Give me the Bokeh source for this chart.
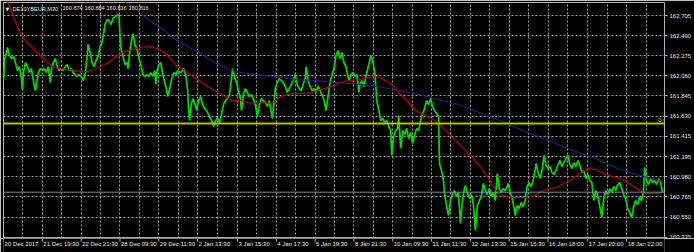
from bokeh.plotting import figure
from bokeh.layouts import column
from bokeh.models import (Range1d, FixedTicker, PrintfTickFormatter, Label, Span, Grid)
from bokeh.core.properties import value
from bokeh.embed import file_html
from bokeh.resources import INLINE

# ---------------- data (bar index, price) ----------------
price_x = [0, 1, 3, 4, 6, 8, 10, 12, 14, 16, 18, 19, 20, 22, 24, 26, 28, 30, 32, 33, 35, 37, 39, 41, 43, 45, 47, 48,
           50, 52, 54, 56, 58, 60, 62, 64, 66, 68, 70, 72, 74, 76, 78, 80, 82, 84, 85, 87, 89, 91, 93, 95, 97, 99,
           101, 102, 104, 106, 108, 110, 112, 114, 116, 117, 118, 120, 122, 124, 125, 127, 129, 130, 132, 134, 136,
           138, 140, 142, 144, 146, 148, 150, 152, 153, 154, 156, 158, 160, 162, 164, 165,
           167, 169, 171, 173, 175, 177, 179, 181, 183, 185, 186, 187, 188, 190, 192, 194, 196, 198, 200, 202, 204,
           206, 208, 210, 211, 213, 215, 217, 219, 221, 223, 225, 227, 229, 230, 232, 234, 236, 238, 239, 241, 243,
           245, 247, 249, 251, 253, 255, 257, 259, 261, 263, 265, 267, 269, 270, 272, 273, 275, 277, 279, 281, 283,
           285, 287, 289, 291, 293, 295, 297, 299, 301, 303, 304, 306, 308, 310, 312, 314, 316, 318, 320, 322, 324,
           326, 328, 330, 332,
           334, 336, 338, 340, 342, 344, 346, 347, 349, 351, 353, 355, 357, 358, 360, 362, 364, 366, 368, 369, 371,
           373, 375, 377, 379, 381, 383, 385, 387, 389, 390, 392, 394, 396, 397, 399, 401, 403, 405, 407, 409, 411,
           413, 415, 417, 419, 421, 423, 425, 427, 429, 431, 433, 435, 437, 438, 440, 442, 443, 445, 447, 449, 451,
           453, 455, 457, 459, 461, 463, 464, 466, 468, 470, 472, 474, 476, 478, 480, 482, 484, 486, 488, 490, 492,
           494, 496,
           498, 500, 502, 504, 506, 507, 509, 511, 513, 514, 516, 518, 520, 522, 524, 526, 528, 530, 532, 534, 535,
           537, 539, 541, 543, 545, 547, 549, 551, 553, 555, 557, 559, 561, 563, 565, 567, 569, 571, 573, 575, 577,
           579, 581, 583, 585, 587, 589, 591, 593, 595, 597, 599, 601, 603, 605, 607, 609, 611, 613, 615, 617, 619,
           621, 623, 625, 627, 629, 631, 633, 635, 637, 639, 641, 643, 644, 646, 648, 650, 652, 654, 656, 658, 660,
           662]
price_y = [162.010, 162.224, 162.309, 162.363, 162.277, 162.245, 162.266, 162.202, 162.117, 162.159, 162.031,
           161.903, 162.095, 162.202, 162.159, 162.095, 162.138, 162.010, 161.903, 161.967, 162.095, 162.138,
           162.117, 162.138, 162.095, 162.159, 161.988, 162.117, 162.202, 162.245, 162.159, 162.117, 162.138,
           162.117, 162.159, 162.181, 162.117, 162.138, 162.095, 162.074, 162.053, 162.074, 162.053, 162.010,
           162.074, 162.277, 162.395, 162.309, 162.202, 162.159, 162.224, 162.266, 162.373, 162.416, 162.544,
           162.608, 162.662, 162.651, 162.608, 162.673, 162.694, 162.705, 162.715, 162.480, 162.352, 162.266,
           162.181, 162.202, 162.138, 162.331, 162.459, 162.512, 162.395, 162.352, 162.245, 162.181, 162.074,
           162.053, 162.074, 162.053, 162.095, 162.053, 162.117, 161.967, 162.095, 162.181, 162.202, 162.074,
           161.988, 161.903, 161.839,
           161.924, 162.031, 162.095, 162.074, 162.117, 162.095, 162.106, 162.138, 162.074, 161.903, 161.689,
           161.582, 161.710, 161.817, 161.775, 161.689, 161.796, 161.839, 161.753, 161.710, 161.689, 161.646,
           161.604, 161.561, 161.518, 161.582, 161.604, 161.561, 161.646, 161.753, 161.796, 161.817, 161.860,
           162.031, 162.138, 162.053, 161.988, 161.903, 161.817, 161.689, 161.860, 161.924, 161.882, 161.839,
           161.860, 161.817, 161.753, 161.625, 161.753, 161.817, 161.796, 161.775, 161.732, 161.796, 161.668,
           161.604, 161.796, 161.924, 161.988, 162.031, 162.010, 161.988, 161.946, 161.882, 161.924, 161.967,
           162.010, 162.074, 161.967, 161.924, 161.903, 161.967, 162.031, 162.159, 162.010, 161.946, 161.903,
           161.924, 161.882, 161.946, 161.903, 161.860, 161.796, 161.689, 161.839, 161.988, 162.074, 162.138,
           162.277, 162.331, 162.245, 162.309, 162.202, 162.159, 162.053, 162.010, 162.074, 162.095, 162.053,
           162.074, 161.882, 161.967, 162.010, 161.946, 162.053, 162.138, 162.224, 162.277, 162.202, 162.095,
           161.796, 161.689, 161.582, 161.604, 161.561, 161.582, 161.518, 161.475, 161.208, 161.411, 161.475,
           161.497, 161.636, 161.283, 161.475, 161.433, 161.497, 161.390, 161.454, 161.336, 161.433, 161.497,
           161.475, 161.582, 161.657, 161.710, 161.796, 161.753, 161.817, 161.732, 161.689, 161.657, 161.625,
           161.123, 161.048, 160.941, 160.802, 160.674, 160.567, 160.727, 160.791, 160.834, 160.770, 160.813,
           160.481, 160.727, 160.855, 160.887, 160.813, 160.748, 160.791, 160.684, 160.406, 160.674, 160.727,
           160.770, 160.909, 160.834, 160.791, 160.855, 160.770, 160.813, 160.727, 161.016,
           160.855, 160.813, 160.855, 160.834, 160.877, 160.909, 160.813, 160.748, 160.641, 160.567, 160.674,
           160.641, 160.706, 160.663, 160.727, 160.877, 160.919, 160.877, 160.941, 161.048, 161.123, 161.026,
           160.962, 161.048, 161.208, 161.101, 161.069, 161.090, 161.026, 161.005, 161.048, 161.112, 161.155,
           161.090, 161.133, 161.176, 161.208, 161.112, 161.069, 161.133, 161.090, 161.155, 161.101, 161.026,
           161.048, 160.962, 161.005, 160.941, 160.919, 160.727, 160.834, 160.770, 160.663, 160.545, 160.748,
           160.834, 160.791, 160.855, 160.813, 160.877, 160.834, 160.898, 160.919, 160.855, 160.791, 160.748,
           160.641, 160.599, 160.545, 160.663, 160.727, 160.684, 160.770, 160.727, 160.834, 161.080, 160.941,
           160.898, 160.962, 160.919, 160.941, 160.898, 160.962, 160.919, 160.816]

ma_fast_x = [4, 10, 17, 22, 30, 40, 50, 57, 67, 77, 85, 94, 100, 107, 114, 120, 129, 137, 145, 154, 162, 169,
             175, 182, 189, 195, 205, 215, 224, 230, 239, 245, 252, 262, 269, 275, 282, 289, 302, 312, 322, 332,
             337, 347, 357, 367, 374, 380, 389, 397, 407, 415, 424, 430, 437, 447, 457, 467, 477, 487, 492, 497,
             505, 512, 525, 532, 542, 555, 569, 579, 587, 595, 605, 619, 629, 639, 645, 655, 662]
ma_fast_y = [162.865, 162.694, 162.512, 162.437, 162.352, 162.245, 162.149, 162.138, 162.127, 162.106, 162.106,
             162.138, 162.170, 162.213, 162.277, 162.309, 162.341, 162.363, 162.373, 162.352, 162.309, 162.224,
             162.159, 162.117, 162.063, 162.020, 161.946, 161.882, 161.828, 161.796, 161.796, 161.775, 161.764,
             161.775, 161.764, 161.817, 161.849, 161.871, 161.871, 161.892, 161.924, 161.956, 161.988, 162.010,
             162.020, 162.042, 162.053, 162.031, 161.978, 161.882, 161.775, 161.678, 161.636, 161.604, 161.550,
             161.443, 161.336, 161.229, 161.112, 160.973, 160.877, 160.802, 160.770, 160.759, 160.759, 160.770,
             160.834, 160.866, 160.941, 161.016, 161.069, 161.058, 161.005, 160.962, 160.909, 160.834, 160.802,
             160.802, 160.813]

ma_slow_x = [120, 132, 147, 162, 174, 187, 197, 212, 229, 245, 262, 279, 295, 312, 332, 347, 370, 387, 404, 422,
             440, 454, 467, 480, 497, 512, 532, 552, 572, 592, 617, 632, 647, 660]
ma_slow_y = [162.865, 162.779, 162.651, 162.544, 162.437, 162.363, 162.309, 162.202, 162.117, 162.085, 162.063,
             162.042, 162.020, 162.010, 161.988, 161.978, 161.956, 161.924, 161.892, 161.849, 161.796, 161.764,
             161.710, 161.657, 161.593, 161.518, 161.433, 161.347, 161.262, 161.187, 161.069, 161.016, 160.973,
             160.941]

level_price = 161.550
last_price = 160.816
price_ticks = [162.705, 162.490, 162.275, 162.060, 161.845, 161.630, 161.415, 161.195,
               160.980, 160.765, 160.550, 160.335]
date_pos = [0, 39, 78, 117, 156, 195, 235, 274, 313, 352, 391, 430, 469, 508, 547, 587, 626]
date_labels = ["20 Dec 2017", "21 Dec 19:30", "22 Dec 21:30", "28 Dec 09:30", "29 Dec 11:30",
               "2 Jan 13:30", "3 Jan 15:30", "4 Jan 17:30", "5 Jan 19:30", "8 Jan 21:30",
               "10 Jan 09:30", "11 Jan 11:30", "12 Jan 13:30", "15 Jan 15:30", "16 Jan 18:00",
               "17 Jan 20:00", "18 Jan 22:00"]
symbol_text = "DE10YBEUR,M30"
title_prices = ["160.874", "160.884", "160.816", "160.816"]

# ---------------- styling ----------------
FONT = "Liberation Sans"
FS = "6px"
FS_TITLE = "5.6px"
FG = "#e4e4e4"
BORDER = "#b4b4b4"

p = figure(width=694, height=238, output_backend="svg", toolbar_location=None,
           x_range=Range1d(0, 664), y_range=Range1d(160.321, 162.844),
           x_axis_location=None, y_axis_location="right",
           min_border_left=3, min_border_right=27, min_border_top=2, min_border_bottom=0)
p.background_fill_color = "black"
p.border_fill_color = "black"
p.outline_line_color = BORDER

# right price axis
ya = p.yaxis[0]
ya.ticker = FixedTicker(ticks=price_ticks)
ya.formatter = PrintfTickFormatter(format="%.3f")
ya.axis_line_color = None
ya.major_tick_out = 3
ya.major_tick_in = 0
ya.minor_tick_line_color = None
ya.major_tick_line_color = BORDER
ya.major_label_standoff = 2
ya.major_label_text_font = FONT
ya.major_label_text_font_size = FS
ya.major_label_text_color = FG

# grids
p.center = [r for r in p.center if not (isinstance(r, Grid) and r.dimension == 0)]
grid_x = sorted(date_pos[1:] + [(a + b) / 2 for a, b in zip(date_pos[:-1], date_pos[1:])] + [date_pos[-1] + 19.5])
p.add_layout(Grid(dimension=0, ticker=FixedTicker(ticks=grid_x)))
p.ygrid.ticker = FixedTicker(ticks=price_ticks)
for g in list(p.xgrid) + list(p.ygrid):
    g.grid_line_color = "#a4a4a4"
    g.grid_line_dash = "2 2"
    g.grid_line_width = 1

# horizontal level line and bid line
p.add_layout(Span(location=level_price, dimension="width", line_color="#bcbc00", line_width=2))
p.add_layout(Span(location=last_price, dimension="width", line_color="#7c8898", line_width=1))

# price and moving averages
p.line(price_x, price_y, line_color="#00dc00", line_width=1.7)
p.line(ma_slow_x, ma_slow_y, line_color="#22227e", line_width=1.1)
p.line(ma_fast_x, ma_fast_y, line_color="#c00000", line_width=1.2)

# title
p.add_layout(Label(x=2, y=233, x_units="screen", y_units="screen", text="\u25bc",
                   text_font="DejaVu Sans", text_font_size="5px", text_color=FG, text_baseline="top"))
p.add_layout(Label(x=9, y=233, x_units="screen", y_units="screen", text=symbol_text,
                   text_font=FONT, text_font_size=FS_TITLE, text_color=FG, text_baseline="top"))
for i, t in enumerate(title_prices):
    p.add_layout(Label(x=59 + 22 * i, y=233, x_units="screen", y_units="screen", text=t,
                       text_font=FONT, text_font_size=FS_TITLE, text_color=FG, text_baseline="top"))

# level label
p.add_layout(Label(x=663, y=level_price, x_units="screen", y_units="data", text="0.0",
                   text_align="right", text_baseline="bottom", y_offset=2,
                   text_font=FONT, text_font_size=FS, text_color="#d0d000"))

# current price box
p.add_layout(Label(x=665, y=last_price, x_units="screen", y_units="data", text="160.816",
                   text_align="left", text_baseline="middle", padding=2,
                   background_fill_color="white", text_color="black",
                   text_font=FONT, text_font_size=FS, level="overlay"))

# ---------------- time strip below ----------------
p2 = figure(width=694, height=14, output_backend="svg", toolbar_location=None,
            x_range=p.x_range, y_range=Range1d(0, 14),
            x_axis_location=None, y_axis_location=None,
            min_border_left=3, min_border_right=27, min_border_top=0, min_border_bottom=0)
p2.background_fill_color = "black"
p2.border_fill_color = "black"
p2.outline_line_color = None
p2.grid.visible = False
p2.segment(x0=date_pos, y0=[14] * len(date_pos), x1=date_pos, y1=[11] * len(date_pos),
           line_color=BORDER, line_width=1)
p2.text(x=date_pos, y=[12] * len(date_pos), text=date_labels, x_offset=1,
        text_align="left", text_baseline="top", text_font=value(FONT),
        text_font_size=FS, text_color=FG)

layout = column(p, p2, spacing=0)
open("out.html", "w").write(file_html(layout, INLINE))
